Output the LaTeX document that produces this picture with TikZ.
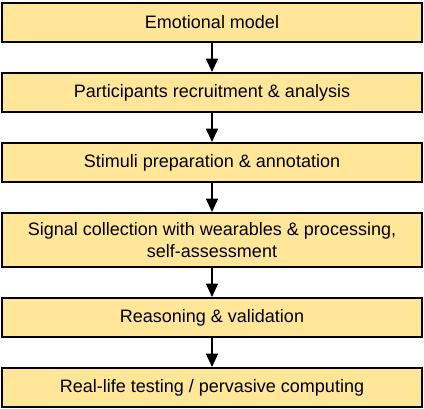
\documentclass[tikz,border=0pt]{standalone}
\usepackage{fontspec}
\setmainfont{Liberation Sans}
\usetikzlibrary{positioning,arrows.meta}
\definecolor{stepyellow}{HTML}{FFE699}

\begin{document}
\begin{tikzpicture}
    \tikzstyle{stage}=[draw=black, line width=1.5pt, fill=stepyellow, minimum width=315pt, minimum height=29.25pt, align=center, font=\fontsize{13.5}{16.5}\selectfont, inner sep=2pt]
    \tikzstyle{flow}=[-{Triangle[width=9pt,length=10pt]}, line width=1.1pt]
    \useasboundingbox (0,0) rectangle (318pt,-306pt);
    \node[stage] (model) at (159pt,-16.875pt) {Emotional model};
    \node[stage, below=21.75pt of model] (recruit) {Participants recruitment \& analysis};
    \node[stage, below=21.75pt of recruit] (stimuli) {Stimuli preparation \& annotation};
    \node[stage, below=21.75pt of stimuli, minimum height=40.5pt] (signal) {Signal collection with wearables \& processing,\\ self-assessment};
    \node[stage, below=21.75pt of signal] (reasoning) {Reasoning \& validation};
    \node[stage, below=21.75pt of reasoning] (testing) {Real-life testing / pervasive computing};
    % arrows between stages
    \draw[flow] (model) -- (recruit);
    \draw[flow] (recruit) -- (stimuli);
    \draw[flow] (stimuli) -- (signal);
    \draw[flow] (signal) -- (reasoning);
    \draw[flow] (reasoning) -- (testing);
\end{tikzpicture}
\end{document}
